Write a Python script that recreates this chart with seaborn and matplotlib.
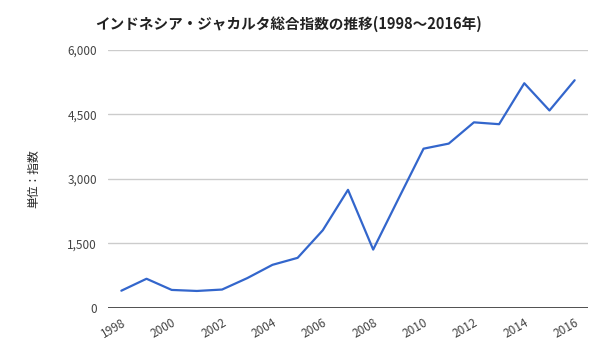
import matplotlib.pyplot as plt
import numpy as np
import pandas as pd
import seaborn as sns

years = list(range(1998, 2017))
index_values = [398, 676, 416, 392, 425, 691, 1000, 1163, 1806, 2746,
                1355, 2534, 3704, 3822, 4317, 4274, 5227, 4593, 5297]
y_ticks = [0, 1500, 3000, 4500, 6000]
x_ticks = list(range(1998, 2017, 2))

df = pd.DataFrame({"year": years, "value": index_values})

sns.set_style("white")
plt.rcParams["font.family"] = ["Noto Sans CJK JP", "DejaVu Sans"]

fig = plt.figure(figsize=(6, 3.6), dpi=100)
ax = fig.add_axes([0.18, 0.145, 0.8, 0.716])

sns.lineplot(data=df, x="year", y="value", ax=ax, color="#3366cc", linewidth=1.6)

ax.set_xlim(1997.47, 2016.53)
ax.set_ylim(0, 6000)
ax.set_yticks(y_ticks)
ax.set_yticklabels([f"{v:,}" for v in y_ticks], fontsize=8.5, color="#444444")
ax.set_xticks(x_ticks)
ax.set_xticklabels([str(v) for v in x_ticks], fontsize=8.5, color="#444444",
                   rotation=30, ha="right", rotation_mode="anchor")
ax.tick_params(axis="both", length=0, pad=8)
ax.tick_params(axis="x", pad=6)

ax.grid(axis="y", color="#cccccc", linewidth=1)
ax.axhline(0, color="#333333", linewidth=1.2)
for s in ax.spines.values():
    s.set_visible(False)

ax.set_xlabel("")
ax.set_ylabel("単位：指数", fontsize=8.5, color="#222222", labelpad=19)

fig.text(0.158, 0.935, "インドネシア・ジャカルタ総合指数の推移(1998～2016年)",
         fontsize=10.5, fontweight="bold", color="#222222", ha="left", va="center")

fig.savefig("out.png", dpi=100)
